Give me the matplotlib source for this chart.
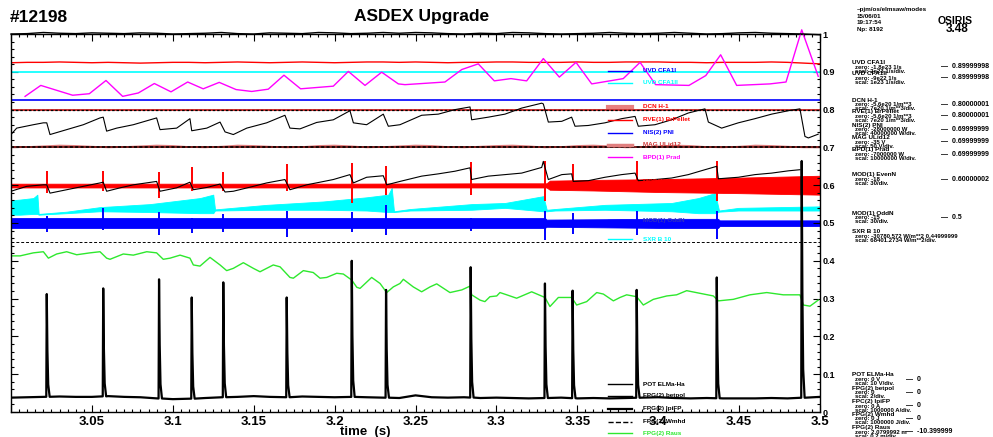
import numpy as np
import matplotlib
matplotlib.use('Agg')
import matplotlib.pyplot as plt
from matplotlib.lines import Line2D
from matplotlib.ticker import MultipleLocator, FuncFormatter

plt.rcParams['font.family'] = ['Liberation Sans', 'DejaVu Sans']
plt.rcParams['font.weight'] = 'bold'

# ---- slow traces on a coarse time grid (normalised units 0..1) ----
t_grid = np.linspace(3.0, 3.5, 51)
top_wave = [1.000, 1.001, 1.004, 1.002, 1.001, 1.003, 1.002, 1.001, 1.003, 1.002,
            1.000, 1.001, 1.002, 1.004, 1.001, 1.000, 1.003, 1.002, 1.001, 1.004,
            1.003, 1.001, 1.002, 1.004, 1.002, 1.004, 1.003, 1.001, 1.000, 1.002,
            1.001, 1.004, 1.003, 1.001, 1.000, 1.001, 1.002, 1.004, 1.002, 1.001,
            1.002, 1.004, 1.002, 1.000, 1.001, 1.003, 1.004, 1.002, 1.001, 1.000, 0.998]
cfa1_red = [0.924, 0.925, 0.925, 0.926, 0.925, 0.924, 0.925, 0.924, 0.923, 0.924,
            0.925, 0.925, 0.924, 0.925, 0.926, 0.925, 0.924, 0.925, 0.926, 0.925,
            0.924, 0.925, 0.926, 0.926, 0.925, 0.926, 0.925, 0.924, 0.925, 0.925,
            0.926, 0.926, 0.925, 0.925, 0.925, 0.926, 0.925, 0.925, 0.926, 0.926,
            0.926, 0.925, 0.925, 0.924, 0.925, 0.925, 0.925, 0.926, 0.925, 0.923, 0.921]
mag_ulid = [0.700, 0.701, 0.703, 0.705, 0.704, 0.702, 0.700, 0.701, 0.703, 0.705,
            0.704, 0.701, 0.700, 0.702, 0.705, 0.704, 0.702, 0.700, 0.701, 0.704,
            0.705, 0.703, 0.700, 0.701, 0.703, 0.705, 0.704, 0.701, 0.700, 0.702,
            0.704, 0.705, 0.703, 0.700, 0.701, 0.704, 0.705, 0.703, 0.700, 0.701,
            0.703, 0.705, 0.704, 0.701, 0.700, 0.702, 0.705, 0.704, 0.702, 0.700, 0.700]
cfa2_level = 0.899
pni_level = 0.825
dcn_level = 0.800
mag_dash_level = 0.700
sxr_dash_level = 0.449

# ---- BPD(1) Prad (magenta) ----
t_prad = [3.0087, 3.0184, 3.0381, 3.0484, 3.0587, 3.0690, 3.0787, 3.0886, 3.0989, 3.1092,
          3.1188, 3.1287, 3.1391, 3.1488, 3.1590, 3.1687, 3.1790, 3.1992, 3.2085, 3.2188,
          3.2291, 3.2394, 3.2435, 3.2682, 3.2786, 3.2888, 3.2987, 3.3090, 3.3187, 3.3290,
          3.3389, 3.3492, 3.3589, 3.3784, 3.3888, 3.3984, 3.4190, 3.4294, 3.4386, 3.4485,
          3.4691, 3.4790, 3.4887, 3.4989]
prad = [0.835, 0.864, 0.838, 0.842, 0.877, 0.835, 0.844, 0.869, 0.847, 0.873,
        0.855, 0.872, 0.853, 0.848, 0.854, 0.891, 0.855, 0.862, 0.901, 0.864,
        0.899, 0.868, 0.866, 0.873, 0.906, 0.921, 0.876, 0.882, 0.876, 0.935,
        0.886, 0.925, 0.868, 0.882, 0.925, 0.866, 0.864, 0.890, 0.945, 0.864,
        0.868, 0.873, 1.011, 0.888]

# ---- upper sawtooth (black) ----
t_saw1 = [3.0000, 3.0035, 3.0138, 3.0200, 3.0221, 3.0241, 3.0344, 3.0447, 3.0550, 3.0570,
          3.0591, 3.0653, 3.0756, 3.0900, 3.0921, 3.1024, 3.1106, 3.1117, 3.1210, 3.1292,
          3.1323, 3.1374, 3.1457, 3.1580, 3.1693, 3.1724, 3.1786, 3.1889, 3.1992, 3.2095,
          3.2116, 3.2198, 3.2301, 3.2332, 3.2404, 3.2538, 3.2641, 3.2744, 3.2837, 3.2847,
          3.2950, 3.3053, 3.3156, 3.3280, 3.3290, 3.3321, 3.3404, 3.3465, 3.3486, 3.3568,
          3.3671, 3.3774, 3.3857, 3.3877, 3.3980, 3.4083, 3.4186, 3.4289, 3.4310, 3.4392,
          3.4495, 3.4598, 3.4701, 3.4804, 3.4876, 3.4907, 3.4928, 3.4989]
saw1 = [0.734, 0.751, 0.760, 0.765, 0.765, 0.734, 0.747, 0.760, 0.778, 0.780,
        0.743, 0.751, 0.760, 0.778, 0.747, 0.751, 0.776, 0.744, 0.751, 0.767,
        0.741, 0.734, 0.751, 0.765, 0.785, 0.751, 0.749, 0.766, 0.773, 0.797,
        0.765, 0.760, 0.788, 0.756, 0.760, 0.785, 0.788, 0.800, 0.807, 0.773,
        0.780, 0.788, 0.804, 0.817, 0.815, 0.767, 0.769, 0.780, 0.756, 0.758,
        0.765, 0.776, 0.782, 0.756, 0.760, 0.773, 0.791, 0.802, 0.767, 0.751,
        0.765, 0.776, 0.788, 0.797, 0.802, 0.729, 0.725, 0.735]

# ---- lower sawtooth (black) ----
t_saw2 = [3.0000, 3.0097, 3.0200, 3.0221, 3.0241, 3.0344, 3.0447, 3.0550, 3.0570, 3.0591,
          3.0674, 3.0756, 3.0900, 3.0921, 3.1024, 3.1106, 3.1127, 3.1210, 3.1292, 3.1323,
          3.1374, 3.1498, 3.1580, 3.1693, 3.1724, 3.1828, 3.1992, 3.2095, 3.2116, 3.2198,
          3.2301, 3.2322, 3.2404, 3.2538, 3.2641, 3.2744, 3.2837, 3.2847, 3.2950, 3.3053,
          3.3156, 3.3280, 3.3290, 3.3321, 3.3404, 3.3465, 3.3475, 3.3568, 3.3671, 3.3774,
          3.3857, 3.3877, 3.3980, 3.4083, 3.4186, 3.4289, 3.4362, 3.4372, 3.4495, 3.4598,
          3.4701, 3.4804, 3.4876]
saw2 = [0.584, 0.597, 0.601, 0.601, 0.579, 0.588, 0.597, 0.606, 0.608, 0.584,
        0.593, 0.601, 0.610, 0.584, 0.593, 0.608, 0.588, 0.594, 0.603, 0.582,
        0.584, 0.597, 0.606, 0.615, 0.588, 0.601, 0.615, 0.628, 0.606, 0.621,
        0.625, 0.601, 0.610, 0.624, 0.630, 0.637, 0.646, 0.615, 0.624, 0.628,
        0.632, 0.647, 0.663, 0.615, 0.628, 0.630, 0.610, 0.612, 0.621, 0.628,
        0.632, 0.612, 0.615, 0.619, 0.628, 0.641, 0.650, 0.617, 0.621, 0.628,
        0.632, 0.638, 0.641]

# ---- FPG(2) Raus (green) ----
t_raus = [3.0000, 3.0056, 3.0138, 3.0200, 3.0231, 3.0282, 3.0344, 3.0406, 3.0488, 3.0550,
          3.0591, 3.0612, 3.0694, 3.0756, 3.0839, 3.0900, 3.0941, 3.0983, 3.1045, 3.1106,
          3.1127, 3.1168, 3.1230, 3.1292, 3.1333, 3.1374, 3.1436, 3.1498, 3.1539, 3.1621,
          3.1663, 3.1724, 3.1745, 3.1807, 3.1868, 3.1910, 3.1951, 3.2013, 3.2054, 3.2106,
          3.2137, 3.2157, 3.2229, 3.2281, 3.2322, 3.2363, 3.2404, 3.2425, 3.2486, 3.2538,
          3.2590, 3.2631, 3.2713, 3.2786, 3.2837, 3.2847, 3.2899, 3.2929, 3.2960, 3.3002,
          3.3022, 3.3064, 3.3125, 3.3218, 3.3300, 3.3331, 3.3383, 3.3465, 3.3496, 3.3558,
          3.3620, 3.3661, 3.3723, 3.3764, 3.3805, 3.3867, 3.3908, 3.3970, 3.4053, 3.4114,
          3.4176, 3.4258, 3.4341, 3.4372, 3.4464, 3.4567, 3.4671, 3.4773, 3.4876, 3.4897,
          3.4938, 3.4989]
raus = [0.413, 0.413, 0.421, 0.424, 0.407, 0.418, 0.424, 0.416, 0.421, 0.424,
        0.407, 0.404, 0.418, 0.415, 0.424, 0.421, 0.404, 0.407, 0.415, 0.407,
        0.389, 0.386, 0.409, 0.389, 0.374, 0.380, 0.395, 0.380, 0.371, 0.389,
        0.384, 0.356, 0.354, 0.374, 0.369, 0.354, 0.356, 0.367, 0.365, 0.349,
        0.330, 0.327, 0.356, 0.340, 0.316, 0.331, 0.340, 0.351, 0.331, 0.318,
        0.331, 0.339, 0.316, 0.323, 0.333, 0.310, 0.296, 0.292, 0.305, 0.307,
        0.316, 0.310, 0.301, 0.318, 0.303, 0.279, 0.303, 0.303, 0.283, 0.292,
        0.316, 0.312, 0.294, 0.303, 0.310, 0.305, 0.283, 0.298, 0.307, 0.310,
        0.321, 0.314, 0.307, 0.294, 0.298, 0.310, 0.316, 0.310, 0.310, 0.283,
        0.280, 0.296]

# ---- SXR B 10 (cyan) envelope ----
t_sxr = [3.0000, 3.0056, 3.0138, 3.0163, 3.0171, 3.0344, 3.0550, 3.0859, 3.1168, 3.1250,
         3.1261, 3.1580, 3.1930, 3.2198, 3.2332, 3.2353, 3.2367, 3.2466, 3.2847, 3.3053,
         3.3290, 3.3311, 3.3362, 3.3671, 3.4083, 3.4248, 3.4351, 3.4376, 3.4495, 3.5000]
sxr_lo = [0.522, 0.522, 0.524, 0.524, 0.522, 0.526, 0.531, 0.529, 0.526, 0.526,
          0.533, 0.535, 0.535, 0.533, 0.529, 0.529, 0.529, 0.533, 0.535, 0.540,
          0.531, 0.531, 0.533, 0.535, 0.531, 0.526, 0.526, 0.530, 0.533, 0.533]
sxr_hi = [0.560, 0.562, 0.566, 0.575, 0.524, 0.530, 0.542, 0.550, 0.566, 0.575,
          0.536, 0.548, 0.557, 0.568, 0.575, 0.593, 0.531, 0.537, 0.550, 0.553,
          0.571, 0.535, 0.537, 0.548, 0.553, 0.566, 0.579, 0.533, 0.540, 0.544]

# ---- MOD(1) EvenN (red) and OddN (blue) envelopes ----
t_even = [3.0, 3.1, 3.2, 3.3, 3.331, 3.333, 3.36, 3.40, 3.45, 3.5]
even_lo = [0.594, 0.594, 0.594, 0.594, 0.594, 0.588, 0.586, 0.582, 0.579, 0.575]
even_hi = [0.604, 0.604, 0.604, 0.605, 0.605, 0.612, 0.614, 0.616, 0.620, 0.625]
t_odd = [3.0, 3.33, 3.331, 3.40, 3.437, 3.438, 3.5]
odd_lo = [0.487, 0.487, 0.490, 0.487, 0.487, 0.492, 0.492]
odd_hi = [0.513, 0.513, 0.509, 0.511, 0.511, 0.507, 0.507]

# ---- ELMs: times, POT ELMa-Ha peaks, and spike extents on the MOD signals ----
elm_t = [3.0221, 3.0570, 3.0915, 3.1117, 3.1312, 3.1704, 3.2106, 3.2318, 3.2841, 3.3300,
         3.3471, 3.3867, 3.4362, 3.4887]
elm_peak = [0.312, 0.327, 0.351, 0.303, 0.343, 0.303, 0.400, 0.323, 0.383, 0.340,
            0.321, 0.323, 0.356, 0.664]
red_hi = [0.638, 0.637, 0.635, 0.647, 0.635, 0.656, 0.659, 0.650, 0.661, 0.663,
          0.656, 0.663, 0.665, 0.663]
red_lo = [0.579, 0.584, 0.566, 0.584, 0.584, 0.584, 0.553, 0.575, 0.575, 0.557,
          0.597, 0.584, 0.557, 0.550]
blue_hi = [0.518, 0.540, 0.529, 0.513, 0.524, 0.531, 0.529, 0.548, 0.513, 0.531,
           0.526, 0.531, 0.531, 0.530]
blue_lo = [0.476, 0.482, 0.467, 0.474, 0.476, 0.462, 0.476, 0.469, 0.480, 0.456,
           0.471, 0.469, 0.458, 0.460]
elm_base = [0.038, 0.039, 0.040, 0.041, 0.040, 0.040, 0.042, 0.040, 0.039, 0.036,
            0.034, 0.035, 0.037, 0.039, 0.040, 0.042, 0.040, 0.039, 0.041, 0.040,
            0.039, 0.040, 0.039, 0.038, 0.037, 0.044, 0.039, 0.038, 0.039, 0.037,
            0.038, 0.037, 0.036, 0.037, 0.038, 0.036, 0.037, 0.036, 0.037, 0.038,
            0.039, 0.037, 0.036, 0.037, 0.036, 0.036, 0.036, 0.037, 0.036, 0.038, 0.040]

# text blocks
legend_items = [
    ('UVD CFA1I', 'blue', 'blue', 70.5, '-', 1.0),
    ('UVD CFA1II', 'cyan', 'cyan', 82.5, '-', 1.0),
    ('DCN H-1', '#e88080', 'red', 106.5, '-', 3.0),
    ('RVE(1) BrPellet', 'red', 'red', 119.5, '-', 1.0),
    ('NIS(2) PNI', 'blue', 'blue', 132.5, '-', 1.0),
    ('MAG ULid12', '#e08080', '#d03838', 144.5, '-', 2.5),
    ('BPD(1) Prad', 'magenta', 'magenta', 157.0, '-', 1.0),
    ('MOD(1) EvenN', 'red', 'red', 181.0, '-', 1.0),
    ('MOD(1) OddN', 'blue', '#3030c0', 220.0, '-', 1.0),
    ('SXR B 10', 'cyan', 'cyan', 239.5, '-', 1.0),
    ('POT ELMa-Ha', 'black', 'black', 384.0, '-', 1.0),
    ('FPG(2) betpol', 'black', 'black', 396.0, '-', 1.0),
    ('FPG(2) IpiFP', 'black', 'black', 408.5, '-', 1.6),
    ('FPG(2) Wmhd', 'black', 'black', 421.5, '--', 1.0),
    ('FPG(2) Raus', '#2ee82e', '#2ee82e', 433.0, '-', 1.0),
]
info_blocks = [
    ('UVD CFA1I', 62.7, 'zero: -1.8e23 1/s', 'scal: 2e23 1/s/div.', '0.89999998', 941),
    ('UVD CFA1II', 73.5, 'zero: -9e22 1/s', 'scal: 1e23 1/s/div.', '0.89999998', 941),
    ('DCN H-1', 100.0, 'zero: -5.6e20 1/m**3', 'scal: 7e20 1/m**3/div.', '0.80000001', 941),
    ('RVE(1) BrPellet', 111.5, 'zero: -5.6e20 1/m**3', 'scal: 7e20 1/m**3/div.', '0.80000001', 941),
    ('NIS(2) PNI', 125.0, 'zero: -28000000 W', 'scal: 40000000 W/div.', '0.69999999', 941),
    ('MAG ULid12', 137.5, 'zero: -35 V', 'scal: 50 V/div.', '0.69999999', 941),
    ('BPD(1) Prad', 150.0, 'zero: -7000000 W', 'scal: 10000000 W/div.', '0.69999999', 941),
    ('MOD(1) EvenN', 175.0, 'zero: -18', 'scal: 30/div.', '0.60000002', 941),
    ('MOD(1) OddN', 213.3, 'zero: -15', 'scal: 30/div.', '0.5', 941),
    ('SXR B 10', 231.7, 'zero: -30780.572 W/m**2 0.44999999', 'scal: 68401.2734 W/m**2/div.', None, 0),
    ('POT ELMa-Ha', 375.0, 'zero: 0 V', 'scal: 10 V/div.', '0', 906),
    ('FPG(2) betpol', 388.5, 'zero: 0', 'scal: 2/div.', '0', 906),
    ('FPC(2) IpiFP', 401.5, 'zero: 0 A', 'scal: 1000000 A/div.', '0', 906),
    ('FPG(2) Wmhd', 414.5, 'zero: 0 J', 'scal: 1000000 J/div.', '0', 906),
    ('FPG(2) Raus', 427.5, 'zero: 2.0799992 m', 'scal: 0.2 m/div.', '-10.399999', 906),
]

W, H = 993, 437
fig = plt.figure(figsize=(W / 100, H / 100), dpi=100)
ax = fig.add_axes([11 / W, 1 - 412 / H, 809 / W, 378 / H])


def fx(x):
    return x / W


def fy(y):
    return 1 - y / H


# flat / slow traces
ax.plot(t_grid, top_wave, color='black', lw=1.0, clip_on=False, zorder=5)
ax.plot(t_grid, cfa1_red, color='red', lw=1.0)
ax.axhline(cfa2_level, color='cyan', lw=1.2)
ax.axhline(pni_level, color='blue', lw=1.2)
ax.axhline(dcn_level, color='#d03030', lw=1.4)
ax.axhline(dcn_level, color='black', lw=0.9, ls=(0, (2, 1.5)))
ax.plot(t_grid, mag_ulid, color='#e08080', lw=1.2)
ax.axhline(mag_dash_level, color='#802020', lw=1.4)
ax.axhline(mag_dash_level, color='black', lw=1.1, ls=(0, (2, 1.5)))
ax.axhline(sxr_dash_level, color='black', lw=0.7, ls=(0, (3, 2)))

ax.plot(t_prad, prad, color='magenta', lw=1.0, clip_on=False, zorder=4)
ax.plot(t_saw1, saw1, color='black', lw=0.8)

# noisy bands as envelopes
ax.fill_between(t_sxr, sxr_lo, sxr_hi, color='cyan', lw=0.6, edgecolor='cyan')
ax.fill_between(t_odd, odd_lo, odd_hi, color='blue', lw=0.6, edgecolor='blue')
ax.vlines(elm_t, blue_lo, blue_hi, color='blue', lw=1.4)
ax.fill_between(t_even, even_lo, even_hi, color='red', lw=0.6, edgecolor='red')
ax.vlines(elm_t, red_lo, red_hi, color='red', lw=1.4)
ax.plot(t_saw2, saw2, color='black', lw=0.8)

ax.plot(t_raus, raus, color='#2ee82e', lw=1.0)

# POT ELMa-Ha: baseline plus sharp spikes at the ELM times
spike_dt = [-0.0003, 0.0, 0.0004, 0.0009, 0.0018]
spike_frac = [0.0, 1.0, 0.45, 0.12, 0.0]
pts = []
for tb, vb in zip(t_grid, elm_base):
    if min(abs(tb - te) for te in elm_t) > 0.0025:
        pts.append((tb, vb))
for te, pk in zip(elm_t, elm_peak):
    b = np.interp(te, t_grid, elm_base)
    for dt, f in zip(spike_dt, spike_frac):
        pts.append((te + dt, b + f * (pk - b)))
pts.sort()
ax.plot([p[0] for p in pts], [p[1] for p in pts], color='black', lw=1.6, zorder=6)

# axes styling
ax.set_xlim(3.0, 3.5)
ax.set_ylim(0, 1)
ax.xaxis.set_major_locator(MultipleLocator(0.05))
ax.xaxis.set_minor_locator(MultipleLocator(0.005))
ax.yaxis.set_major_locator(MultipleLocator(0.1))
ax.yaxis.set_minor_locator(MultipleLocator(0.02))
ax.xaxis.set_major_formatter(FuncFormatter(lambda v, p: '' if v < 3.01 else '{:g}'.format(round(v, 2))))
ax.yaxis.set_major_formatter(FuncFormatter(lambda v, p: '{:g}'.format(round(v, 2))))
ax.tick_params(which='both', direction='in', top=True, right=True, labelleft=False,
               labelright=True, width=0.8)
ax.tick_params(which='major', length=5)
ax.tick_params(which='minor', length=2.5)
ax.tick_params(axis='x', labelsize=9.5, pad=3)
ax.tick_params(axis='y', labelsize=6.5, pad=2)
for s in ax.spines.values():
    s.set_linewidth(1.0)
fig.text(fx(365), fy(431.5), 'time  (s)', fontsize=9.5, fontweight='bold', ha='center', va='center')

# header
fig.text(fx(10), fy(18), '#12198', fontsize=12.5, fontweight='bold', va='center')
fig.text(fx(422), fy(17), 'ASDEX Upgrade', fontsize=12.5, fontweight='bold', va='center', ha='center')
for s, y in zip(['~pjm/os/elmsaw/modes', '15/06/01', '19:17:54', 'Np: 8192'], [10, 16, 23, 29]):
    fig.text(fx(857), fy(y), s, fontsize=4.5, va='center')
fig.text(fx(955), fy(21), 'OSIRIS', fontsize=7.5, va='center', ha='center')
fig.text(fx(957), fy(29), '3.48', fontsize=8.5, va='center', ha='center')

# in-plot legend
for lab, lc, tc, y, ls, lw in legend_items:
    fig.add_artist(Line2D([fx(608), fx(632)], [fy(y), fy(y)], color=lc, ls=ls, lw=lw))
    fig.text(fx(643), fy(y), lab, color=tc, fontsize=4.6, va='center')

# right-hand channel info
for name, y, zero, scal, val, vx in info_blocks:
    fig.text(fx(852), fy(y), name, fontsize=4.6, va='center')
    fig.text(fx(855), fy(y + 4.5), zero, fontsize=4.3, va='center')
    fig.text(fx(855), fy(y + 8.5), scal, fontsize=4.3, va='center')
    if val is not None:
        fig.text(fx(vx), fy(y + 4.3), '\u2014  ' + val, fontsize=5.0, va='center')

fig.savefig('out.png', dpi=100)
